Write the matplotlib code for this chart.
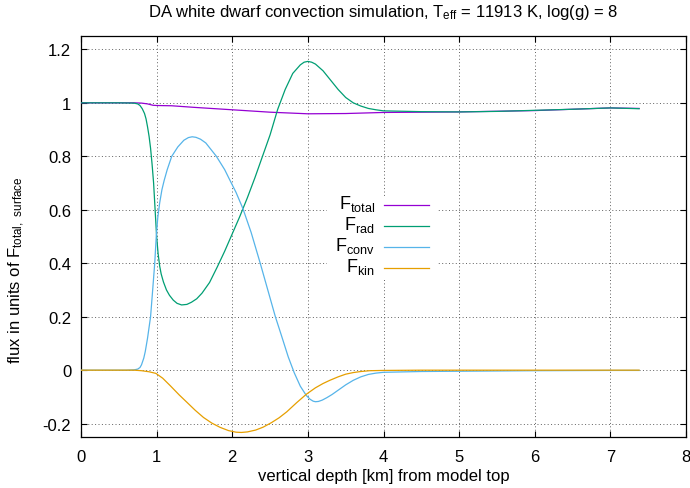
import matplotlib
matplotlib.use("Agg")
import matplotlib.pyplot as plt
from matplotlib.ticker import FuncFormatter, FixedLocator
from matplotlib.patches import Rectangle
from matplotlib.lines import Line2D

plt.rcParams['font.family'] = ['Liberation Sans', 'DejaVu Sans']
plt.rcParams['mathtext.default'] = 'regular'
plt.rcParams['axes.unicode_minus'] = False

# ---- data ----
depth_total = [0, 0.7, 0.80, 0.88, 0.95, 1.0, 1.2, 1.5, 2.0, 2.5, 3.0, 3.5, 4.0, 5.0, 6.0, 7.0, 7.38]
f_total = [1.0, 1.0, 0.999, 0.996, 0.991, 0.990, 0.989, 0.983, 0.974, 0.965, 0.959, 0.960, 0.964,
           0.966, 0.971, 0.981, 0.979]

depth_rad = [0, 0.5, 0.7, 0.75, 0.78, 0.81, 0.84, 0.86, 0.88, 0.90, 0.92, 0.94, 0.96, 0.98, 1.00,
             1.02, 1.04, 1.06, 1.09, 1.13, 1.17, 1.22, 1.27, 1.33, 1.40, 1.46, 1.53, 1.60, 1.70,
             1.80, 1.90, 2.00, 2.10, 2.20, 2.30, 2.40, 2.50, 2.60, 2.70, 2.80, 2.90, 2.95, 3.00,
             3.05, 3.10, 3.20, 3.30, 3.40, 3.50, 3.60, 3.70, 3.80, 3.90, 4.00, 4.5, 5.0, 5.5, 6.0,
             6.5, 7.0, 7.38]
f_rad = [1.0, 1.0, 0.999, 0.996, 0.99, 0.978, 0.96, 0.94, 0.91, 0.875, 0.83, 0.77, 0.70, 0.60, 0.50,
         0.435, 0.39, 0.36, 0.33, 0.30, 0.28, 0.262, 0.25, 0.244, 0.246, 0.254, 0.267, 0.288, 0.328,
         0.385, 0.445, 0.51, 0.575, 0.645, 0.72, 0.80, 0.88, 0.975, 1.05, 1.11, 1.142, 1.152, 1.155,
         1.152, 1.145, 1.12, 1.085, 1.05, 1.02, 1.0, 0.988, 0.979, 0.974, 0.970, 0.967, 0.966,
         0.968, 0.972, 0.976, 0.981, 0.978]

depth_conv = [0, 0.6, 0.70, 0.75, 0.78, 0.80, 0.83, 0.85, 0.88, 0.92, 0.945, 0.975, 0.995, 1.015,
              1.04, 1.07, 1.10, 1.14, 1.20, 1.28, 1.36, 1.42, 1.47, 1.52, 1.58, 1.65, 1.79, 1.90,
              1.97, 2.05, 2.14, 2.25, 2.37, 2.50, 2.57, 2.65, 2.74, 2.82, 2.90, 2.98, 3.03, 3.07,
              3.10, 3.14, 3.19, 3.25, 3.32, 3.40, 3.50, 3.60, 3.70, 3.80, 3.90, 4.00, 4.5, 5.0, 6.0,
              7.0, 7.38]
f_conv = [0, 0, 0.001, 0.004, 0.01, 0.02, 0.045, 0.07, 0.12, 0.20, 0.29, 0.40, 0.50, 0.57,
          0.625, 0.675, 0.71, 0.75, 0.80, 0.835, 0.86, 0.870, 0.873, 0.871, 0.864, 0.85, 0.80, 0.75,
          0.71, 0.665, 0.605, 0.515, 0.40, 0.27, 0.20, 0.13, 0.05, -0.01, -0.06, -0.095, -0.109,
          -0.116, -0.118, -0.117, -0.112, -0.103, -0.091, -0.075, -0.055, -0.038, -0.025, -0.016,
          -0.011, -0.008, -0.005, -0.004, -0.002, -0.001, -0.001]

depth_kin = [0, 0.7, 0.80, 0.90, 0.99, 1.08, 1.18, 1.30, 1.40, 1.51, 1.62, 1.73, 1.84, 1.95, 2.05,
             2.12, 2.20, 2.31, 2.41, 2.52, 2.62, 2.72, 2.85, 2.98, 3.10, 3.20, 3.29, 3.40, 3.50,
             3.60, 3.70, 3.82, 4.0, 4.5, 7.38]
f_kin = [0, 0, -0.002, -0.006, -0.012, -0.03, -0.058, -0.093, -0.12, -0.15, -0.177, -0.198, -0.214,
         -0.226, -0.232, -0.233, -0.231, -0.224, -0.213, -0.196, -0.178, -0.156, -0.122, -0.09,
         -0.066, -0.05, -0.038, -0.025, -0.015, -0.009, -0.005, -0.002, -0.001, 0, 0]

x_ticks = [0, 1, 2, 3, 4, 5, 6, 7, 8]
y_ticks = [-0.2, 0, 0.2, 0.4, 0.6, 0.8, 1.0, 1.2]
labels = ['F$_{total}$', 'F$_{rad}$', 'F$_{conv}$', 'F$_{kin}$']
colors = ['#9400d3', '#009e73', '#56b4e9', '#e69f00']

# ---- figure ----
W, H = 690, 489
fig = plt.figure(figsize=(W / 100, H / 100), dpi=100)
L, R, T, B = 81, 686, 37, 438
ax = fig.add_axes([L / W, 1 - B / H, (R - L) / W, (B - T) / H])

series = [(depth_total, f_total), (depth_rad, f_rad), (depth_conv, f_conv), (depth_kin, f_kin)]
for (xs, ys), c in zip(series, colors):
    ax.plot(xs, ys, color=c, lw=0.9, zorder=3, solid_joinstyle='round')

ax.set_xlim(0, 8)
ax.set_ylim(-0.25, 1.25)
ax.xaxis.set_major_locator(FixedLocator(x_ticks))
ax.yaxis.set_major_locator(FixedLocator(y_ticks))
fmt = FuncFormatter(lambda v, p: '%g' % round(v, 3))
ax.xaxis.set_major_formatter(fmt)
ax.yaxis.set_major_formatter(fmt)
ax.tick_params(direction='in', length=4.5, width=0.8, top=True, right=True,
               labelsize=12, pad=7, colors='black')
ax.tick_params(axis='x', pad=9)
for s in ax.spines.values():
    s.set_linewidth(0.9)
    s.set_color('black')
ax.grid(True, color='#606060', lw=0.7, linestyle=(0, (1, 2.5)), zorder=0)
ax.set_axisbelow(True)

# legend (gnuplot style: text right-aligned, sample line to its right)
ax.add_patch(Rectangle(((327 - L) / (R - L), (B - 281) / (B - T)),
                       (438 - 327) / (R - L), (281 - 197) / (B - T),
                       transform=ax.transAxes, facecolor='white', edgecolor='none', zorder=2))
rows = [206, 227, 248, 269]
for lab, c, py in zip(labels, colors, rows):
    yf = (B - py) / (B - T)
    ax.text((375 - L) / (R - L), yf + 0.006, lab, transform=ax.transAxes, ha='right', va='center',
            fontsize=13, zorder=4)
    ax.add_line(Line2D([(384 - L) / (R - L), (429 - L) / (R - L)], [yf, yf], transform=ax.transAxes,
                       color=c, lw=0.9, zorder=4))

fig.text(383.5 / W, 1 - 13 / H, 'DA white dwarf convection simulation, T$_{eff}$ = 11913 K, log(g) = 8',
         ha='center', va='center', fontsize=12)
fig.text(383.5 / W, 1 - 477 / H, 'vertical depth [km] from model top', ha='center', va='center', fontsize=12)
fig.text(17 / W, 1 - 270 / H, 'flux in units of F$_{total,\\ surface}$', ha='center', va='center',
         rotation=90, fontsize=12)

fig.savefig('out.png', dpi=100)
